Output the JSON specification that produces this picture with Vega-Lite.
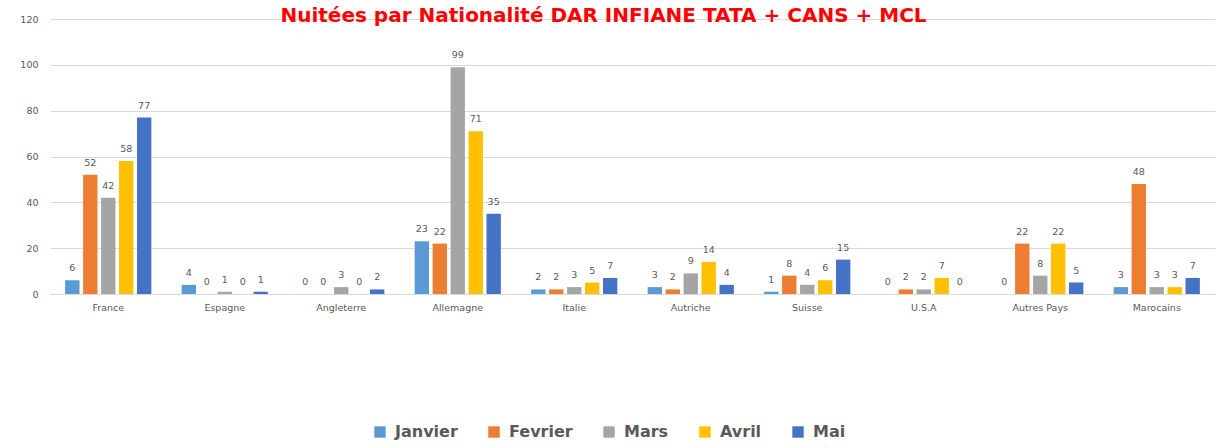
{
  "$schema": "https://vega.github.io/schema/vega-lite/v6.json",
  "width": 1165,
  "height": 275,
  "autosize": {"type": "none"},
  "padding": {"left": 50, "top": 19, "right": 2, "bottom": 154},
  "background": "white",
  "title": {
    "text": "Nuitées par Nationalité DAR INFIANE TATA + CANS + MCL",
    "color": "#FF0000",
    "font": "DejaVu Sans",
    "fontWeight": "bold",
    "fontSize": 20,
    "anchor": "middle",
    "offset": -12,
    "dx": -29
  },
  "data": {
    "values": [
      {"pays": "France", "mois": "Janvier", "v": 6},
      {"pays": "France", "mois": "Fevrier", "v": 52},
      {"pays": "France", "mois": "Mars", "v": 42},
      {"pays": "France", "mois": "Avril", "v": 58},
      {"pays": "France", "mois": "Mai", "v": 77},
      {"pays": "Espagne", "mois": "Janvier", "v": 4},
      {"pays": "Espagne", "mois": "Fevrier", "v": 0},
      {"pays": "Espagne", "mois": "Mars", "v": 1},
      {"pays": "Espagne", "mois": "Avril", "v": 0},
      {"pays": "Espagne", "mois": "Mai", "v": 1},
      {"pays": "Angleterre", "mois": "Janvier", "v": 0},
      {"pays": "Angleterre", "mois": "Fevrier", "v": 0},
      {"pays": "Angleterre", "mois": "Mars", "v": 3},
      {"pays": "Angleterre", "mois": "Avril", "v": 0},
      {"pays": "Angleterre", "mois": "Mai", "v": 2},
      {"pays": "Allemagne", "mois": "Janvier", "v": 23},
      {"pays": "Allemagne", "mois": "Fevrier", "v": 22},
      {"pays": "Allemagne", "mois": "Mars", "v": 99},
      {"pays": "Allemagne", "mois": "Avril", "v": 71},
      {"pays": "Allemagne", "mois": "Mai", "v": 35},
      {"pays": "Italie", "mois": "Janvier", "v": 2},
      {"pays": "Italie", "mois": "Fevrier", "v": 2},
      {"pays": "Italie", "mois": "Mars", "v": 3},
      {"pays": "Italie", "mois": "Avril", "v": 5},
      {"pays": "Italie", "mois": "Mai", "v": 7},
      {"pays": "Autriche", "mois": "Janvier", "v": 3},
      {"pays": "Autriche", "mois": "Fevrier", "v": 2},
      {"pays": "Autriche", "mois": "Mars", "v": 9},
      {"pays": "Autriche", "mois": "Avril", "v": 14},
      {"pays": "Autriche", "mois": "Mai", "v": 4},
      {"pays": "Suisse", "mois": "Janvier", "v": 1},
      {"pays": "Suisse", "mois": "Fevrier", "v": 8},
      {"pays": "Suisse", "mois": "Mars", "v": 4},
      {"pays": "Suisse", "mois": "Avril", "v": 6},
      {"pays": "Suisse", "mois": "Mai", "v": 15},
      {"pays": "U.S.A", "mois": "Janvier", "v": 0},
      {"pays": "U.S.A", "mois": "Fevrier", "v": 2},
      {"pays": "U.S.A", "mois": "Mars", "v": 2},
      {"pays": "U.S.A", "mois": "Avril", "v": 7},
      {"pays": "U.S.A", "mois": "Mai", "v": 0},
      {"pays": "Autres Pays", "mois": "Janvier", "v": 0},
      {"pays": "Autres Pays", "mois": "Fevrier", "v": 22},
      {"pays": "Autres Pays", "mois": "Mars", "v": 8},
      {"pays": "Autres Pays", "mois": "Avril", "v": 22},
      {"pays": "Autres Pays", "mois": "Mai", "v": 5},
      {"pays": "Marocains", "mois": "Janvier", "v": 3},
      {"pays": "Marocains", "mois": "Fevrier", "v": 48},
      {"pays": "Marocains", "mois": "Mars", "v": 3},
      {"pays": "Marocains", "mois": "Avril", "v": 3},
      {"pays": "Marocains", "mois": "Mai", "v": 7}
    ]
  },
  "encoding": {
    "x": {
      "field": "pays",
      "type": "nominal",
      "sort": null,
      "scale": {"paddingInner": 0.26, "paddingOuter": 0.13},
      "axis": {
        "title": null,
        "labelAngle": 0,
        "labelFont": "DejaVu Sans",
        "labelFontSize": 9.5,
        "labelColor": "#595959",
        "labelPadding": 8,
        "ticks": false,
        "domainColor": "#D9D9D9",
        "grid": false
      }
    },
    "xOffset": {
      "field": "mois",
      "type": "nominal",
      "sort": ["Janvier", "Fevrier", "Mars", "Avril", "Mai"],
      "scale": {"paddingInner": 0.2}
    },
    "y": {
      "field": "v",
      "type": "quantitative",
      "scale": {"domain": [0, 120]},
      "axis": {
        "title": null,
        "values": [0, 20, 40, 60, 80, 100, 120],
        "labelFont": "DejaVu Sans",
        "labelFontSize": 9.5,
        "labelColor": "#595959",
        "labelPadding": 12,
        "ticks": false,
        "domain": false,
        "gridColor": "#D9D9D9"
      }
    }
  },
  "layer": [
    {
      "mark": {"type": "bar"},
      "encoding": {
        "color": {
          "field": "mois",
          "type": "nominal",
          "sort": ["Janvier", "Fevrier", "Mars", "Avril", "Mai"],
          "scale": {
            "domain": ["Janvier", "Fevrier", "Mars", "Avril", "Mai"],
            "range": ["#5B9BD5", "#ED7D31", "#A5A5A5", "#FFC000", "#4472C4"]
          },
          "legend": {
            "title": null,
            "orient": "none",
            "direction": "horizontal",
            "legendX": 322,
            "legendY": 405,
            "symbolType": "square",
            "symbolSize": 130,
            "symbolStrokeWidth": 0,
            "labelFont": "DejaVu Sans",
            "labelFontSize": 16,
            "labelFontWeight": "bold",
            "labelColor": "#595959",
            "columnPadding": 28,
            "labelOffset": 7
          }
        }
      }
    },
    {
      "mark": {
        "type": "text",
        "dy": -7,
        "font": "DejaVu Sans",
        "fontSize": 9.5,
        "color": "#595959",
        "baseline": "bottom"
      },
      "encoding": {
        "text": {"field": "v", "type": "quantitative"}
      }
    }
  ],
  "config": {
    "view": {"stroke": null}
  }
}
